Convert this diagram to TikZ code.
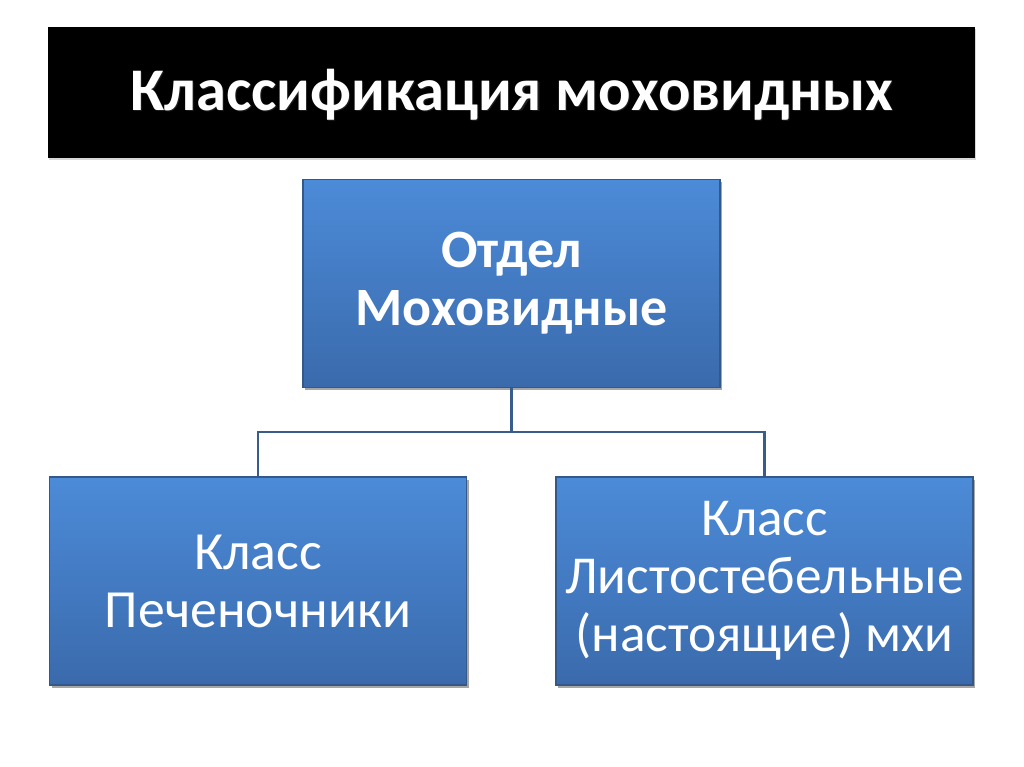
\documentclass[tikz,border=0pt]{standalone}
\usepackage{fontspec}
\setmainfont{Carlito}
\usetikzlibrary{shadows,calc}
\definecolor{boxtop}{RGB}{76,139,216}
\definecolor{boxbot}{RGB}{58,106,172}
\definecolor{boxedge}{RGB}{52,88,135}
\definecolor{connc}{RGB}{56,93,140}
\tikzset{
  bluebox/.style={rectangle, top color=boxtop, bottom color=boxbot, draw=boxedge, line width=0.8pt,
    minimum width=417*0.75pt, minimum height=208*0.75pt, inner sep=0pt, align=center, text=white,
    drop shadow={shadow xshift=1.5pt, shadow yshift=-2pt, opacity=0.35, fill=black}},
  conn/.style={draw=connc, line width=1.6pt},
  titlebar/.style={rectangle, fill=black, minimum width=927*0.75pt, minimum height=130*0.75pt,
    drop shadow={shadow xshift=1pt, shadow yshift=-1.5pt, opacity=0.3}},
}
\begin{document}
\begin{tikzpicture}[x=0.75pt,y=-0.75pt]
\useasboundingbox[fill=white] (0,0) rectangle (1024,767);
\node[titlebar] (bar) at (511.5,92.5) {};
\node[text=black!60, opacity=0.3, font=\bfseries\fontsize{45.4}{50}\selectfont] (tshadow) at ($(512,95)+(1.2,1.2)$) {Классификация моховидных};
\node[text=white, font=\bfseries\fontsize{45.4}{50}\selectfont] (title) at (512,95) {Классификация моховидных};
\node[bluebox, font=\bfseries\fontsize{40.5}{43.5}\selectfont] (top) at (511.5,283.5) {Отдел\\Моховидные};
\node[bluebox, font=\fontsize{40.3}{43.5}\selectfont] (left) at (258,581) {Класс\\Печеночники};
\node[bluebox, font=\fontsize{40}{43.5}\selectfont] (right) at (764.5,581) {Класс\\Листостебельные\\(настоящие) мхи};
\coordinate (bus) at (511.5,432);
\draw[conn] (top.south) -- (bus) -| (left.north);
\draw[conn] (bus) -| (right.north);
\end{tikzpicture}
\end{document}
